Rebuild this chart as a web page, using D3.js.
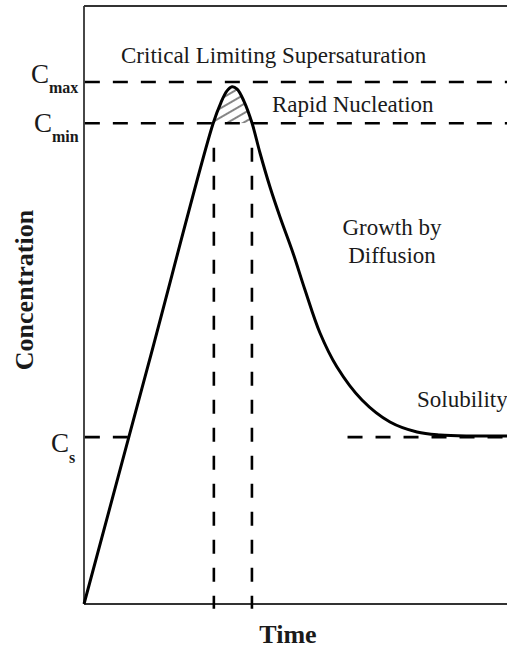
<!DOCTYPE html>
<html><head><meta charset="utf-8">
<script src="https://cdn.jsdelivr.net/npm/d3@7"></script>
<style>html,body{margin:0;padding:0;background:#fff}svg{display:block}</style>
</head><body>
<svg id="c" width="507" height="649"></svg>
<script>
// Data (arbitrary units: time 0..100, concentration 0..100)
const curveTime = [0, 15.25, 30.5, 32.4, 33.8, 35.0, 36.2, 37.8, 39.72, 41.61, 43.97, 46.34, 49.41, 52.25, 55.79, 59.81, 65.72, 72.34, 78.72, 84.16, 91.25, 100];
const curveConc = [0, 40.15, 80.3, 83.9, 85.8, 86.5, 86.1, 84.1, 80.43, 75.42, 69.73, 64.72, 58.70, 52.51, 45.32, 39.63, 34.11, 30.43, 28.76, 28.26, 28.09, 28.09];
const levelNames = ["Cmax", "Cmin", "Cs"];
const levelValues = [87.3, 80.4, 27.9];
const nucleationTimes = [30.7, 39.7];
const labels = ["Critical Limiting Supersaturation", "Rapid Nucleation", "Growth by", "Diffusion", "Solubility"];

const svg = d3.select("#c");
const x = d3.scaleLinear().domain([0, 100]).range([84, 507]);
const y = d3.scaleLinear().domain([0, 100]).range([604, 6]);
const pts = curveTime.map((t, i) => [t, curveConc[i]]);
const lvl = Object.fromEntries(levelNames.map((n, i) => [n, levelValues[i]]));

// hatch pattern
const defs = svg.append("defs");
const pat = defs.append("pattern").attr("id", "hatch").attr("patternUnits", "userSpaceOnUse")
  .attr("width", 8).attr("height", 8).attr("patternTransform", "rotate(-30)");
pat.append("line").attr("x1", 0).attr("y1", 4).attr("x2", 8).attr("y2", 4)
  .attr("stroke", "#333").attr("stroke-width", 1.2);
defs.append("clipPath").attr("id", "above").append("rect")
  .attr("x", x(0)).attr("y", 0).attr("width", 423).attr("height", y(lvl.Cmin));

const crv = d3.curveCatmullRom.alpha(0.5);
svg.append("path")
  .datum(pts.filter(p => p[0] >= 29 && p[0] <= 41))
  .attr("clip-path", "url(#above)")
  .attr("fill", "url(#hatch)")
  .attr("d", d3.area().x(d => x(d[0])).y0(y(lvl.Cmin)).y1(d => y(d[1])).curve(crv));

// axes lines
const axisColor = "#333";
svg.append("line").attr("x1", x(0)).attr("x2", x(100)).attr("y1", y(0)).attr("y2", y(0)).attr("stroke", axisColor).attr("stroke-width", 1.8);
svg.append("line").attr("x1", x(0)).attr("x2", x(100)).attr("y1", y(100)).attr("y2", y(100)).attr("stroke", axisColor).attr("stroke-width", 2);
svg.append("line").attr("x1", x(0)).attr("x2", x(0)).attr("y1", y(100)).attr("y2", y(0)).attr("stroke", axisColor).attr("stroke-width", 1.8);

const dash = "15,13";
function hdash(x0, x1, v) {
  svg.append("line").attr("x1", x(x0)).attr("x2", x(x1)).attr("y1", y(v)).attr("y2", y(v))
    .attr("stroke", "#000").attr("stroke-width", 2.6).attr("stroke-dasharray", dash);
}
hdash(0.2, 100, lvl.Cmax);
hdash(0.2, 100, lvl.Cmin);
hdash(0.2, 10.8, lvl.Cs);
hdash(62.3, 100, lvl.Cs);

nucleationTimes.forEach(t => {
  svg.append("line").attr("x1", x(t)).attr("x2", x(t)).attr("y1", y(76.3)).attr("y2", y(-0.8))
    .attr("stroke", "#000").attr("stroke-width", 2.6).attr("stroke-dasharray", "14,14");
});

// main curve
svg.append("path").datum(pts).attr("fill", "none").attr("stroke", "#000").attr("stroke-width", 3)
  .attr("stroke-linejoin", "round")
  .attr("d", d3.line().x(d => x(d[0])).y(d => y(d[1])).curve(crv));

// text
const font = "'Liberation Serif', 'Times New Roman', serif";
const T = (tx, ty, s, size, anchor, weight) => svg.append("text").attr("x", tx).attr("y", ty)
  .attr("font-family", font).attr("font-size", size).attr("text-anchor", anchor || "start")
  .attr("font-weight", weight || "normal").attr("fill", "#1a1a1a").text(s);
T(121, 63, labels[0], 23);
T(272, 112, labels[1], 23);
T(392, 235, labels[2], 23, "middle");
T(392, 263, labels[3], 23, "middle");
T(417, 407, labels[4], 23);

// level labels
function clabel(cx, cy, sub, sy) {
  const t = svg.append("text").attr("font-family", font).attr("fill", "#1a1a1a");
  t.append("tspan").attr("x", cx).attr("y", cy).attr("font-size", 27).text("C");
  t.append("tspan").attr("y", sy).attr("font-size", 16).attr("font-weight", "bold").text(sub);
}
clabel(31, 83, "max", 93);
clabel(34, 132, "min", 142);
clabel(51, 452, "s", 463);

// axis titles
T(288, 643, "Time", 26, "middle", "bold");
svg.append("text").attr("transform", "translate(33,290) rotate(-90)")
  .attr("font-family", font).attr("font-size", 26).attr("font-weight", "bold")
  .attr("text-anchor", "middle").attr("fill", "#1a1a1a").text("Concentration");
</script>
</body></html>
